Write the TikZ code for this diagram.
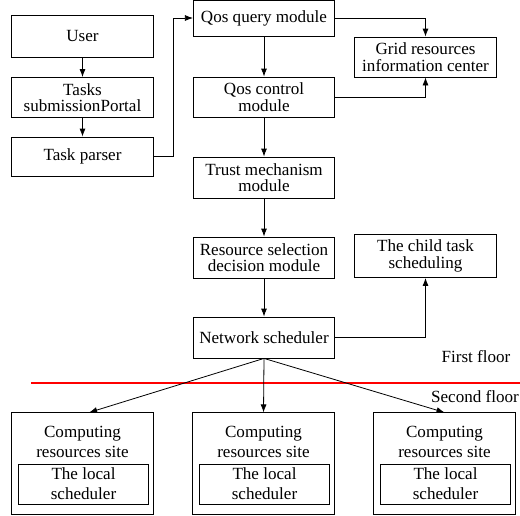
\documentclass[tikz,border=0pt]{standalone}
\usepackage{fontspec}
\setmainfont{Liberation Serif}
\newfontfamily\timesfont{Liberation Serif}
\usetikzlibrary{arrows.meta}
\tikzstyle{block}=[draw, rectangle, inner sep=0pt, align=center, minimum width=106pt, minimum height=30pt, font=\timesfont\fontsize{12.8}{12.4}\selectfont]
\tikzstyle{sitebox}=[draw, rectangle, inner sep=0pt, minimum width=106pt, minimum height=76pt]
\tikzstyle{sitetitle}=[inner sep=0pt, align=center, font=\timesfont\fontsize{12.8}{15}\selectfont]
\tikzstyle{schedbox}=[draw, rectangle, inner sep=0pt, align=center, minimum width=97.5pt, minimum height=30pt, font=\timesfont\fontsize{12.8}{15}\selectfont]
\tikzstyle{floortext}=[inner sep=0pt, font=\timesfont\fontsize{12.8}{15}\selectfont]
\tikzstyle{flow}=[-{Latex[length=6pt, width=4.5pt]}]

\begin{document}
\begin{tikzpicture}[x=0.75pt, y=-0.75pt, line width=0.6pt]
        \useasboundingbox (0,0) rectangle (520,515);
        % left column
        \node[block, minimum height=31.5pt] (user) at (82.5, 36) {User};
        \node[block] (portal) at (82.5, 97.5) {Tasks\\submissionPortal};
        \node[block, minimum height=29.25pt] (parser) at (82.5, 156.5) {Task parser};
        % middle column
        \node[block, minimum height=27pt] (query) at (264, 18) {Qos query module};
        \node[block] (control) at (264, 97) {Qos control\\module};
        \node[block, minimum height=30.75pt] (trust) at (264, 177.5) {Trust mechanism\\module};
        \node[block, minimum height=30.75pt] (select) at (264, 257.5) {Resource selection\\decision module};
        \node[block, minimum height=30.75pt] (sched) at (264, 337.5) {Network scheduler};
        % right column
        \node[block, minimum width=107pt] (grid) at (425.5, 57) {Grid resources\\information center};
        \node[block, minimum width=107pt, minimum height=32.25pt] (child) at (425.5, 256) {The child task\\scheduling};
        \draw[flow] (user) -- (portal);
        \draw[flow] (portal) -- (parser);
        \draw[flow] (parser.east) -- ++(20,0) |- (query.west);
        \draw[flow] (query) -- (control);
        \draw[flow] (control) -- (trust);
        \draw[flow] (trust) -- (select);
        \draw[flow] (select) -- (sched);
        \draw[flow] (query.east) -| (grid.north);
        \draw[flow] (control.east) -| (grid.south);
        \draw[flow] (sched.east) -| (child.south);
        % floors
        \node[floortext] (first) at (476, 357) {First floor};
        \draw[red, line width=1.5pt] (31, 383) -- (520, 383);
        \node[floortext] (second) at (475, 397) {Second floor};
        \foreach \i/\x/\s in {1/82.5/5pt, 2/263.5/0pt, 3/444.5/0pt} {
             \node[sitebox] (site\i) at (\x, 463.5) {};
             \node[sitetitle] (title\i) at (\x, 442) {Computing\\resources site};
             \node[schedbox] (local\i) at (\x+1, 484) {The local\\scheduler};
             \draw[flow] (sched.south) -- ([xshift=\s]site\i.north);
        }
    \end{tikzpicture}
\end{document}
